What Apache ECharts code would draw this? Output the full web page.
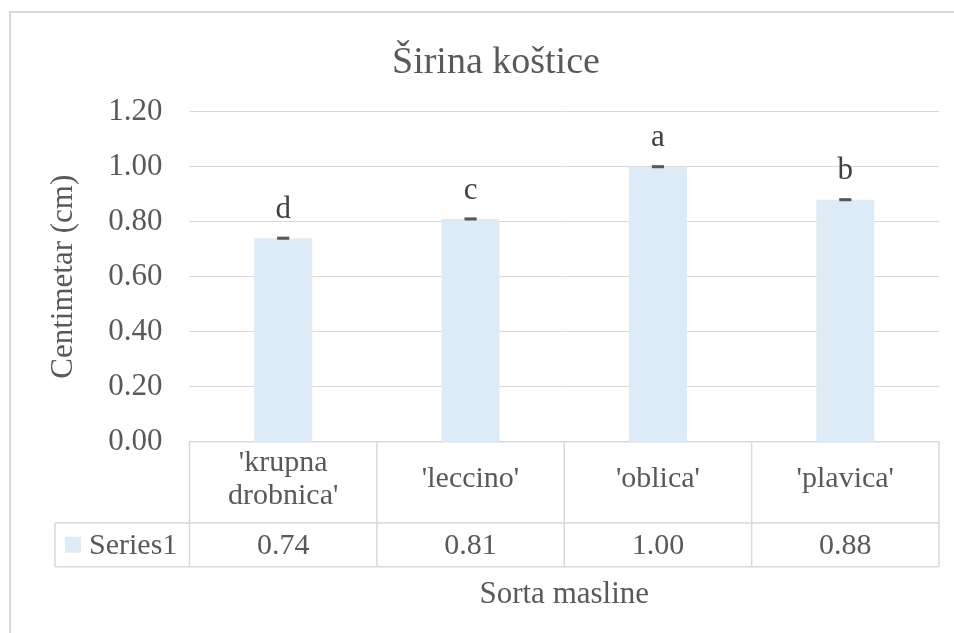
<!DOCTYPE html>
<html>
<head>
<meta charset="utf-8">
<script src="https://cdn.jsdelivr.net/npm/echarts@6/dist/echarts.min.js"></script>
<style>
  html, body { margin: 0; padding: 0; background: #fff; }
  #chart { width: 954px; height: 633px; }
</style>
</head>
<body>
<div id="chart"></div>
<script>
// podaci
var categories = ["'krupna\ndrobnica'", "'leccino'", "'oblica'", "'plavica'"];
var values = [0.74, 0.81, 1.00, 0.88];
var errors = [0.002, 0.002, 0.002, 0.002];
var letters = ['d', 'c', 'a', 'b'];
var seriesName = 'Series1';

var FONT = "'Liberation Serif', 'Times New Roman', serif";
var TXT = '#595959';
var LINE = '#d9d9d9';

var chart = echarts.init(document.getElementById('chart'));

function renderCap(params, api) {
  var i = api.value(0);
  var v = api.value(1), e = api.value(2);
  var hi = api.coord([i, v + e]);
  var lo = api.coord([i, v - e]);
  var w = 6;
  var st = { stroke: TXT, lineWidth: 2 };
  return {
    type: 'group',
    children: [
      { type: 'line', shape: { x1: hi[0] - w, y1: hi[1], x2: hi[0] + w, y2: hi[1] }, style: st },
      { type: 'line', shape: { x1: lo[0] - w, y1: lo[1], x2: lo[0] + w, y2: lo[1] }, style: st },
      { type: 'line', shape: { x1: hi[0], y1: hi[1], x2: lo[0], y2: lo[1] }, style: st }
    ]
  };
}

var option = {
  animation: false,
  title: {
    text: 'Širina koštice',
    left: 392,
    top: 44,
    padding: 0,
    textStyle: { fontFamily: FONT, fontSize: 38, fontWeight: 'normal', color: TXT }
  },
  grid: { left: 189.5, right: 15, top: 111.7, bottom: 191.3 },
  xAxis: {
    type: 'category',
    data: categories,
    name: 'Sorta masline',
    nameLocation: 'middle',
    nameGap: 138,
    nameTextStyle: { fontFamily: FONT, fontSize: 31, color: TXT },
    axisLine: { lineStyle: { color: LINE, width: 1 } },
    axisTick: { show: false },
    axisLabel: { show: false }
  },
  yAxis: {
    type: 'value',
    min: 0,
    max: 1.2,
    interval: 0.2,
    name: 'Centimetar (cm)',
    nameLocation: 'middle',
    nameGap: 110,
    nameTextStyle: { fontFamily: FONT, fontSize: 31, color: TXT },
    axisLine: { show: false },
    axisTick: { show: false },
    axisLabel: {
      margin: 27,
      fontFamily: FONT, fontSize: 31, color: TXT,
      formatter: function (v) { return v.toFixed(2); }
    },
    splitLine: { lineStyle: { color: LINE, width: 1 } }
  },
  series: [
    {
      name: seriesName,
      type: 'bar',
      data: values,
      barWidth: 58,
      itemStyle: { color: '#DDEBF7' },
      label: {
        show: true,
        position: 'top',
        distance: 13,
        fontFamily: FONT, fontSize: 31, color: '#404040',
        formatter: function (p) { return letters[p.dataIndex]; }
      }
    },
    {
      type: 'custom',
      renderItem: renderCap,
      data: values.map(function (v, i) { return [i, v, errors[i]]; }),
      z: 5
    }
  ]
};
chart.setOption(option);

// tablica podataka ispod osi
function buildTable() {
  var c0 = chart.convertToPixel({ xAxisIndex: 0 }, 0);
  var c1 = chart.convertToPixel({ xAxisIndex: 0 }, 1);
  var band = c1 - c0;
  var y0 = chart.convertToPixel({ yAxisIndex: 0 }, 0);
  var rowSep = y0 + 81.3;
  var bottom = y0 + 125;
  var leftEdge = c0 - band / 2;
  var rightEdge = leftEdge + band * categories.length;
  var legLeft = 55;
  var g = [];
  var ls = { stroke: LINE, lineWidth: 1.5 };

  // okvir grafikona
  g.push({ type: 'rect', shape: { x: 10, y: 12, width: 960, height: 640 }, style: { fill: null, stroke: LINE, lineWidth: 2 }, silent: true });

  for (var k = 0; k <= categories.length; k++) {
    var x = leftEdge + band * k;
    g.push({ type: 'line', shape: { x1: x, y1: y0, x2: x, y2: bottom }, style: ls });
  }
  g.push({ type: 'line', shape: { x1: leftEdge, y1: y0, x2: rightEdge, y2: y0 }, style: ls });
  g.push({ type: 'line', shape: { x1: legLeft, y1: rowSep, x2: rightEdge, y2: rowSep }, style: ls });
  g.push({ type: 'line', shape: { x1: legLeft, y1: bottom, x2: rightEdge, y2: bottom }, style: ls });
  g.push({ type: 'line', shape: { x1: legLeft, y1: rowSep, x2: legLeft, y2: bottom }, style: ls });

  categories.forEach(function (c, i) {
    var cx = chart.convertToPixel({ xAxisIndex: 0 }, i);
    g.push({
      type: 'text', x: cx, y: (y0 + rowSep) / 2 - 3,
      style: { text: c, fontFamily: FONT, fontSize: 30, fill: TXT, align: 'center', verticalAlign: 'middle', lineHeight: 33 }
    });
    g.push({
      type: 'text', x: cx, y: (rowSep + bottom) / 2 + 1,
      style: { text: values[i].toFixed(2), fontFamily: FONT, fontSize: 30, fill: TXT, align: 'center', verticalAlign: 'middle' }
    });
  });

  var my = (rowSep + bottom) / 2;
  g.push({ type: 'rect', shape: { x: 65, y: my - 8, width: 16, height: 16 }, style: { fill: '#DDEBF7' } });
  g.push({
    type: 'text', x: 89, y: my + 1,
    style: { text: seriesName, fontFamily: FONT, fontSize: 30, fill: TXT, align: 'left', verticalAlign: 'middle' }
  });

  chart.setOption({ graphic: g });
}
buildTable();
</script>
</body>
</html>
